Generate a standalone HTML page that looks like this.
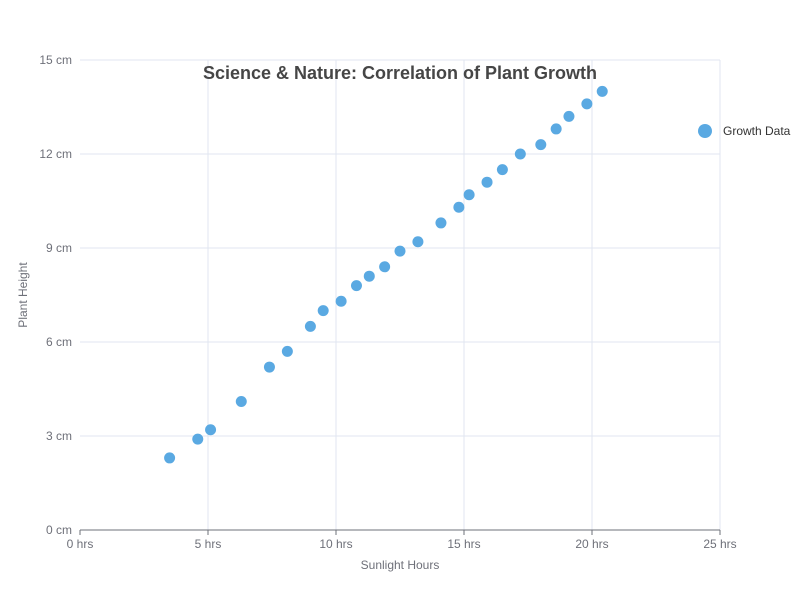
<!DOCTYPE html>
<html><head><meta charset="utf-8"><style>
body{margin:0;background:#fff;font-family:"Liberation Sans",sans-serif}
svg text{font-family:"Liberation Sans",sans-serif}
</style></head><body>
<svg id="c" width="800" height="600"></svg>
<script>
const xVals=[3.5,4.6,5.1,6.3,7.4,8.1,9.0,9.5,10.2,10.8,11.3,11.9,12.5,13.2,14.1,14.8,15.2,15.9,16.5,17.2,18.0,18.6,19.1,19.8,20.4];
const yVals=[2.3,2.9,3.2,4.1,5.2,5.7,6.5,7.0,7.3,7.8,8.1,8.4,8.9,9.2,9.8,10.3,10.7,11.1,11.5,12.0,12.3,12.8,13.2,13.6,14.0];
const xTicks=[0,5,10,15,20,25];
const yTicks=[0,3,6,9,12,15];
const svg=document.getElementById('c');const NS='http://www.w3.org/2000/svg';
const X=v=>80+v/25*640, Y=v=>530-v/15*470;
function mk(t,a,p){const e=document.createElementNS(NS,t);for(const k in a)e.setAttribute(k,a[k]);(p||svg).appendChild(e);return e;}
xTicks.forEach(t=>{if(t>0){const l=mk('line',{x1:X(t),x2:X(t),y1:60,y2:530,stroke:'#e0e6f1'});}
 const k=mk('line',{x1:X(t),x2:X(t),y1:530,y2:535,stroke:'#6e7079'});
 const tx=mk('text',{x:X(t),y:548,'text-anchor':'middle','font-size':12,fill:'#6e7079'});tx.textContent=t+' hrs';
 });
yTicks.forEach(t=>{if(t>0){const l=mk('line',{x1:80,x2:720,y1:Y(t),y2:Y(t),stroke:'#e0e6f1'});}
 const tx=mk('text',{x:72,y:Y(t)+4,'text-anchor':'end','font-size':12,fill:'#6e7079'});tx.textContent=t+' cm';
 });
const ax=mk('line',{x1:80,x2:720,y1:530,y2:530,stroke:'#6e7079'});
xVals.forEach((v,i)=>{const c=mk('circle',{cx:X(v),cy:Y(yVals[i]),r:5.5,fill:'#5aa9e2'});
 });
let t=mk('text',{x:400,y:79,'text-anchor':'middle','font-size':18,'font-weight':'bold',fill:'#464646'});t.textContent='Science & Nature: Correlation of Plant Growth';

t=mk('text',{x:400,y:569,'text-anchor':'middle','font-size':12,fill:'#6e7079'});t.textContent='Sunlight Hours';

t=mk('text',{x:27,y:295,'text-anchor':'middle','font-size':12,fill:'#6e7079',transform:'rotate(-90 27 295)'});t.textContent='Plant Height';

const g=mk('g',{});
mk('circle',{cx:705,cy:131,r:7,fill:'#5aa9e2'},g);
t=mk('text',{x:723,y:135,'font-size':12,fill:'#333'},g);t.textContent='Growth Data';
</script></body></html>
